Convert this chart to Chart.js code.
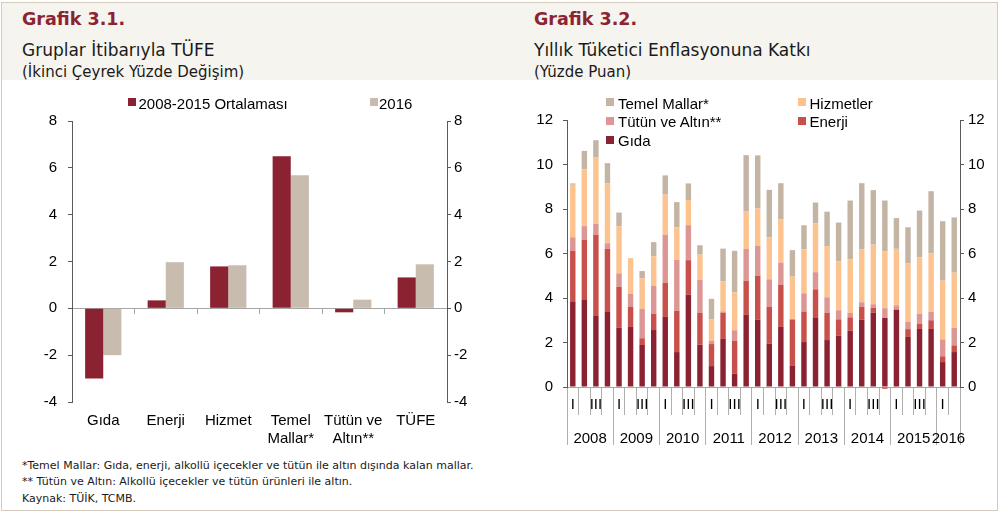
<!DOCTYPE html>
<html lang="tr"><head><meta charset="utf-8">
<script src="https://cdn.jsdelivr.net/npm/chart.js@4.4.1/dist/chart.umd.min.js"></script>
<style>
html,body{margin:0;padding:0;background:#fff}
body{width:1000px;height:513px;position:relative;overflow:hidden;font-family:"DejaVu Sans",sans-serif;color:#1a1a1a}
#frame{position:absolute;left:1px;top:2px;width:997px;height:509px;border:1px solid #d4cbbd;box-sizing:border-box}
#head{position:absolute;left:2px;top:3px;width:995px;height:77px;background:#f6f4ef}
.tx{position:absolute;white-space:nowrap;line-height:1}
.title{font-weight:bold;color:#8b2332;font-size:17.5px}
.sub1{font-size:17px}
.sub2{font-size:15px}
.ft{font-size:11px}
.lg{position:absolute;font-family:"Liberation Sans",Arial,sans-serif;font-size:15px;line-height:1;color:#000;white-space:nowrap}
.bx{position:absolute;width:8px;height:8px}
canvas{position:absolute}
</style></head><body>
<div id="frame"></div>
<div id="head"></div>
<div class="tx title" style="left:22px;top:11px">Grafik 3.1.</div>
<div class="tx sub1" style="left:22px;top:42px">Gruplar İtibarıyla TÜFE</div>
<div class="tx sub2" style="left:22px;top:64.5px">(İkinci Çeyrek Yüzde Değişim)</div>
<div class="tx title" style="left:534px;top:11px">Grafik 3.2.</div>
<div class="tx sub1" style="left:534px;top:42px">Yıllık Tüketici Enflasyonuna Katkı</div>
<div class="tx sub2" style="left:534px;top:64.5px">(Yüzde Puan)</div>
<div class="tx ft" style="left:22px;top:459.7px">*Temel Mallar: Gıda, enerji, alkollü içecekler ve tütün ile altın dışında kalan mallar.</div>
<div class="tx ft" style="left:22px;top:475.7px">** Tütün ve Altın: Alkollü içecekler ve tütün ürünleri ile altın.</div>
<div class="tx ft" style="left:22px;top:492.7px">Kaynak: TÜİK, TCMB.</div>
<canvas id="c1" width="520" height="342" style="left:0;top:110px;width:520px;height:342px"></canvas>
<canvas id="c2" width="490" height="340" style="left:510px;top:110px;width:490px;height:340px"></canvas>
<div id="legends"></div>
<script>
// ---------- Grafik 3.1 data ----------
const groupLabels = ['Gıda', 'Enerji', 'Hizmet', ['Temel', 'Mallar*'], ['Tütün ve', 'Altın**'], 'TÜFE'];
const seriesNames1 = ['2008-2015 Ortalaması', '2016'];
const avg0815 = [-3.0, 0.34, 1.79, 6.5, -0.17, 1.32];
const val2016 = [-2.0, 1.97, 1.84, 5.68, 0.37, 1.88];

// ---------- Grafik 3.2 data ----------
const quarterLabels = ['I','','III','', 'I','','III','', 'I','','III','', 'I','','III','',
                       'I','','III','', 'I','','III','', 'I','','III','', 'I','','III','', 'I',''];
const yearLabels = ['2008','2009','2010','2011','2012','2013','2014','2015','2016'];
const quartersPerYear = [4,4,4,4,4,4,4,4,2];
const seriesNames2 = ['Gıda', 'Enerji', 'Tütün ve Altın**', 'Hizmetler', 'Temel Mallar*'];
const gida   = [3.85,3.91,3.19,3.37, 2.67,2.70,1.89,2.56, 3.15,1.57,4.15,1.90, 0.94,2.16,0.60,3.24,
                3.03,1.95,2.70,0.97, 2.02,3.10,2.11,2.31, 2.53,3.03,3.34,3.10, 3.47,2.25,2.61,2.61, 1.12,1.57];
const enerji = [2.27,2.70,3.65,2.84, 1.83,0.90,0.30,0.72, 1.53,1.85,1.55,1.43, 0.99,1.17,1.47,1.53,
                1.97,1.65,1.89,2.06, 1.37,1.29,1.22,0.73, 0.60,0.57,0.21,-0.08, 0.02,0.35,0.22,0.39, 0.26,0.30];
const tutun  = [0.61,0.62,0.50,0.25, 0.61,0.58,1.32,1.26, 2.16,2.29,1.57,1.48, 0.14,0.07,0.48,1.44,
                1.34,1.24,1.00,0.03, 0.82,0.77,0.70,0.41, 0.20,0.21,0.17,0.44, 0.18,0.32,0.45,0.37, 0.76,0.78];
const hizmet = [2.36,2.55,2.97,2.70, 2.12,1.61,1.37,1.34, 1.81,1.47,1.13,1.14, 0.96,1.35,1.70,1.69,
                1.68,1.89,1.95,1.90, 1.98,2.19,2.30,2.20, 2.41,2.38,2.68,2.56, 2.54,2.63,2.55,2.64, 2.64,2.49];
const temel  = [0.06,0.83,0.78,0.90, 0.61,-0.05,0.33,0.63, 0.86,1.13,0.75,0.42, 0.93,1.47,1.87,2.52,
                2.39,2.13,1.62,1.19, 1.08,0.94,1.55,1.74, 2.64,2.97,2.45,2.28, 1.38,1.63,2.10,2.79, 2.67,2.48];

// ---------- styles ----------
const C_DARK = '#8b2232', C_BEIGE = '#c8bcae';
const colors2 = ['#8b2232', '#c9504a', '#dc9693', '#fcc38f', '#c3b4a4'];
const AXIS = '#595959', TICKGRAY = '#b0b0b0';

Chart.defaults.font.family = '"Liberation Sans", Arial, sans-serif';
Chart.defaults.font.size = 15;
Chart.defaults.color = '#000';

// fixed widths for vertical axes; label overflow handled by layout padding
const fixY = w => s => { s.width = w; s.paddingTop = 0; s.paddingBottom = 0; };

// ---------- Chart 1 ----------
new Chart(document.getElementById('c1'), {
  type: 'bar',
  data: {
    labels: groupLabels,
    datasets: [
      { label: seriesNames1[0], data: avg0815, backgroundColor: C_DARK, xAxisID: 'x', yAxisID: 'y', categoryPercentage: 0.58, barPercentage: 1 },
      { label: seriesNames1[1], data: val2016, backgroundColor: C_BEIGE, xAxisID: 'x', yAxisID: 'y', categoryPercentage: 0.58, barPercentage: 1 }
    ]
  },
  options: {
    responsive: false, animation: false,
    layout: { padding: { top: 11, left: 0, right: 0, bottom: 0 } },
    plugins: { legend: { display: false }, tooltip: { enabled: false } },
    scales: {
      x: { axis: 'x', type: 'category', position: 'bottom',
           grid: { display: false, drawTicks: false }, border: { display: false },
           ticks: { padding: 10, maxRotation: 0, minRotation: 0, autoSkip: false },
           afterFit: s => { s.height = 50; } },
      x0: { axis: 'x', type: 'category', position: { y: 0 },
            grid: { offset: true, drawOnChartArea: false, tickLength: 5, color: '#a6a6a6' },
            border: { display: true, color: '#a6a6a6' },
            ticks: { display: false } },
      y: { axis: 'y', position: 'left', min: -4, max: 8,
           ticks: { stepSize: 2, padding: 11 },
           grid: { drawOnChartArea: false, tickLength: 4, color: AXIS },
           border: { color: AXIS },
           afterFit: fixY(72) },
      y2: { axis: 'y', position: 'right', min: -4, max: 8,
            ticks: { stepSize: 2, padding: 3 },
            grid: { drawOnChartArea: false, tickLength: 4, color: AXIS },
            border: { color: AXIS },
            afterFit: fixY(73) }
    }
  }
});

// ---------- Chart 2 ----------
const seriesData2 = [gida, enerji, tutun, hizmet, temel];
const yearBounds = [-0.5];
const yearCenters = [];
quartersPerYear.forEach((n) => {
  const start = yearBounds[yearBounds.length - 1];
  yearCenters.push(start + n / 2);
  yearBounds.push(start + n);
});
const isBound = v => yearBounds.some(b => Math.abs(b - v) < 1e-6);

new Chart(document.getElementById('c2'), {
  type: 'bar',
  data: {
    labels: quarterLabels,
    datasets: seriesData2.map((d, i) => ({
      label: seriesNames2[i], data: d, backgroundColor: colors2[i],
      xAxisID: 'x', yAxisID: 'y', categoryPercentage: 1, barPercentage: 0.47, clip: false
    }))
  },
  options: {
    responsive: false, animation: false,
    layout: { padding: { top: 10, left: 0, right: 0, bottom: 3 } },
    plugins: { legend: { display: false }, tooltip: { enabled: false } },
    scales: {
      x: { axis: 'x', type: 'category', position: 'bottom', stacked: true, weight: 0,
           offset: true,
           grid: { offset: true, drawOnChartArea: false, tickLength: 28, color: TICKGRAY },
           border: { display: true, color: '#a6a6a6' },
           ticks: { padding: -19, maxRotation: 0, minRotation: 0, autoSkip: false },
           afterFit: s => { s.height = 28; } },
      yr: { axis: 'x', type: 'linear', position: 'bottom', weight: 1,
            min: -0.5, max: 33.5, offset: false,
            afterBuildTicks: s => {
              s.ticks = yearBounds.concat(yearCenters).sort((a, b) => a - b).map(v => ({ value: v }));
            },
            grid: { offset: false, drawOnChartArea: false, tickLength: 30,
                    color: ctx => (ctx.tick && isBound(ctx.tick.value)) ? TICKGRAY : 'rgba(0,0,0,0)' },
            border: { display: false },
            ticks: { padding: -15, maxRotation: 0, minRotation: 0, autoSkip: false,
                     callback: v => { const k = yearCenters.findIndex(c => Math.abs(c - v) < 1e-6); return k >= 0 ? yearLabels[k] : ''; } },
            afterFit: s => { s.height = 32; } },
      y: { axis: 'y', position: 'left', stacked: true, min: 0, max: 12,
           ticks: { stepSize: 2, padding: 10 },
           grid: { drawOnChartArea: false, tickLength: 4, color: AXIS },
           border: { color: AXIS },
           afterFit: fixY(57) },
      y2: { axis: 'y', position: 'right', min: 0, max: 12,
            ticks: { stepSize: 2, padding: 4 },
            grid: { drawOnChartArea: false, tickLength: 4, color: AXIS },
            border: { color: AXIS },
            afterFit: fixY(40) }
    }
  }
});

// ---------- HTML legends ----------
const legendHost = document.getElementById('legends');
function addItem(text, color, boxLeft, textLeft, baseline) {
  const b = document.createElement('div');
  b.className = 'bx'; b.style.background = color;
  b.style.left = boxLeft + 'px'; b.style.top = (baseline - 10.3) + 'px';
  legendHost.appendChild(b);
  const t = document.createElement('div');
  t.className = 'lg'; t.textContent = text;
  t.style.left = textLeft + 'px'; t.style.top = (baseline - 12.7) + 'px';
  legendHost.appendChild(t);
}
addItem(seriesNames1[0], C_DARK, 127.5, 138.5, 108.3);
addItem(seriesNames1[1], C_BEIGE, 370, 379, 108.3);
// right legend: reversed order in two columns
addItem(seriesNames2[4], colors2[4], 606, 618, 108.3);
addItem(seriesNames2[3], colors2[3], 798, 809.5, 108.3);
addItem(seriesNames2[2], colors2[2], 606, 618, 127);
addItem(seriesNames2[1], colors2[1], 798, 809.5, 127);
addItem(seriesNames2[0], colors2[0], 606, 618, 146);
</script>
</body></html>
